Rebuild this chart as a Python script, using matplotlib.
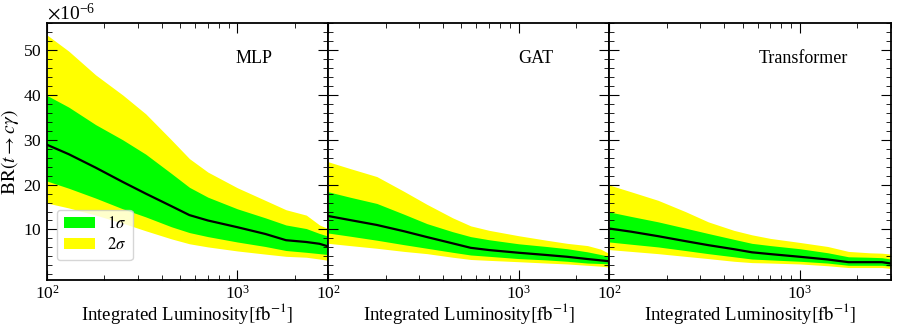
import numpy as np
import matplotlib
matplotlib.use('Agg')
import matplotlib.pyplot as plt
from matplotlib.ticker import FixedLocator, MultipleLocator, LogLocator, ScalarFormatter

plt.rcParams['font.family'] = ['Liberation Serif', 'DejaVu Serif']
plt.rcParams['mathtext.fontset'] = 'stix'
plt.rcParams['axes.formatter.use_mathtext'] = True
plt.rcParams['font.size'] = 12

# Integrated luminosity grid [fb^-1]
lumi = [100, 130, 180, 250, 330, 450, 560, 700, 1000, 1400, 1800, 2300, 2700, 3000]

models = ["MLP", "GAT", "Transformer"]

# expected limits on BR(t -> c gamma), in units of 1e-6
mlp_med = [28.9, 26.8, 23.8, 20.6, 18.0, 15.2, 13.2, 12.0, 10.5, 9.0, 7.6, 7.2, 6.8, 6.2]
mlp_up1 = [39.9, 37.3, 33.4, 30.0, 26.8, 22.5, 19.4, 17.2, 14.6, 12.6, 11.0, 10.2, 9.1, 8.5]
mlp_lo1 = [20.8, 19.2, 17.0, 14.6, 12.8, 10.6, 9.3, 8.4, 7.2, 6.2, 5.3, 4.9, 4.6, 4.4]
mlp_up2 = [53.4, 49.8, 44.5, 40.0, 35.8, 30.0, 25.8, 22.8, 19.3, 16.5, 14.4, 13.2, 11.0, 10.2]
mlp_lo2 = [15.9, 14.8, 13.2, 11.4, 9.7, 7.9, 6.8, 6.1, 5.2, 4.5, 4.0, 3.8, 3.4, 3.1]

gat_med = [13.0, 12.1, 11.0, 9.6, 8.3, 6.9, 5.9, 5.4, 4.8, 4.3, 3.9, 3.4, 3.1, 2.9]
gat_up1 = [18.4, 17.2, 15.8, 13.4, 11.3, 9.5, 8.4, 7.7, 6.8, 6.2, 5.7, 5.0, 4.4, 4.0]
gat_lo1 = [9.2, 8.5, 7.6, 6.6, 5.8, 4.9, 4.3, 4.0, 3.5, 3.2, 2.9, 2.5, 2.4, 2.3]
gat_up2 = [25.1, 23.6, 21.8, 18.5, 15.6, 12.6, 10.8, 9.8, 8.6, 7.6, 6.9, 6.4, 5.6, 4.6]
gat_lo2 = [6.9, 6.4, 5.8, 5.1, 4.6, 3.8, 3.3, 3.1, 2.8, 2.5, 2.3, 2.0, 1.8, 1.6]

trf_med = [10.2, 9.5, 8.5, 7.4, 6.5, 5.6, 4.9, 4.5, 3.9, 3.3, 2.7, 2.7, 2.7, 2.4]
trf_up1 = [13.9, 12.9, 11.7, 10.3, 9.1, 7.8, 6.9, 6.4, 5.7, 4.8, 3.9, 3.8, 3.7, 3.4]
trf_lo1 = [7.2, 6.7, 6.1, 5.3, 4.6, 3.9, 3.4, 3.2, 2.9, 2.5, 2.0, 2.0, 2.0, 1.8]
trf_up2 = [19.9, 18.4, 16.5, 14.0, 11.7, 9.8, 8.8, 8.0, 7.1, 6.2, 5.1, 4.8, 4.7, 4.5]
trf_lo2 = [5.5, 5.1, 4.6, 4.0, 3.5, 2.9, 2.6, 2.5, 2.3, 1.9, 1.5, 1.5, 1.5, 1.3]

bands = [
    (mlp_med, mlp_lo1, mlp_up1, mlp_lo2, mlp_up2),
    (gat_med, gat_lo1, gat_up1, gat_lo2, gat_up2),
    (trf_med, trf_lo1, trf_up1, trf_lo2, trf_up2),
]
label_x = [0.737, 0.737, 0.69]

fig, axes = plt.subplots(1, 3, sharey=True, figsize=(8.97, 3.28), dpi=100)
fig.subplots_adjust(left=0.0524, right=0.993, bottom=0.146, top=0.929, wspace=0)

x = np.array(lumi)
s = 1e-6
for ax, name, (med, lo1, up1, lo2, up2), lx in zip(axes, models, bands, label_x):
    ax.fill_between(x, np.array(lo2) * s, np.array(up2) * s, color='#ffff00', lw=0, label=r'$2\sigma$')
    ax.fill_between(x, np.array(lo1) * s, np.array(up1) * s, color='#00ff00', lw=0, label=r'$1\sigma$')
    ax.plot(x, np.array(med) * s, color='black', lw=1.6)
    ax.set_xscale('log')
    ax.set_xlim(100, 3000)
    ax.text(lx, 0.862, name, transform=ax.transAxes, ha='center', va='center', fontsize=13)
    ax.set_xlabel(r'Integrated Luminosity$[\mathrm{fb}^{-1}]$', fontsize=13.5)
    ax.xaxis.set_label_coords(0.5, -0.082)
    ax.tick_params(which='both', direction='in', top=True, right=True)
    ax.tick_params(which='major', length=7, width=0.8, labelsize=12.5)
    ax.tick_params(which='minor', length=3.5, width=0.6)
    ax.xaxis.set_minor_locator(LogLocator(base=10, subs=np.arange(2, 10)))
    for sp in ax.spines.values():
        sp.set_linewidth(1.3)

fmt = ScalarFormatter(useMathText=True)
fmt.set_powerlimits((-6, -6))
axes[0].yaxis.set_major_formatter(fmt)
axes[0].yaxis.set_major_locator(FixedLocator([10e-6, 20e-6, 30e-6, 40e-6, 50e-6]))
axes[0].yaxis.set_minor_locator(MultipleLocator(2e-6))
axes[0].set_ylabel(r'$\mathrm{BR}(t \rightarrow c\gamma)$', fontsize=14, labelpad=2)
axes[0].yaxis.get_offset_text().set_fontsize(14)

h, l = axes[0].get_legend_handles_labels()
axes[0].legend(h[::-1], l[::-1], loc='lower left', bbox_to_anchor=(0.035, 0.078),
               borderaxespad=0, fontsize=12, handlelength=1.9, handleheight=0.7,
               handletextpad=0.7, labelspacing=0.3, borderpad=0.4,
               fancybox=True, edgecolor='#cccccc')

fig.savefig('out.png', dpi=100)
